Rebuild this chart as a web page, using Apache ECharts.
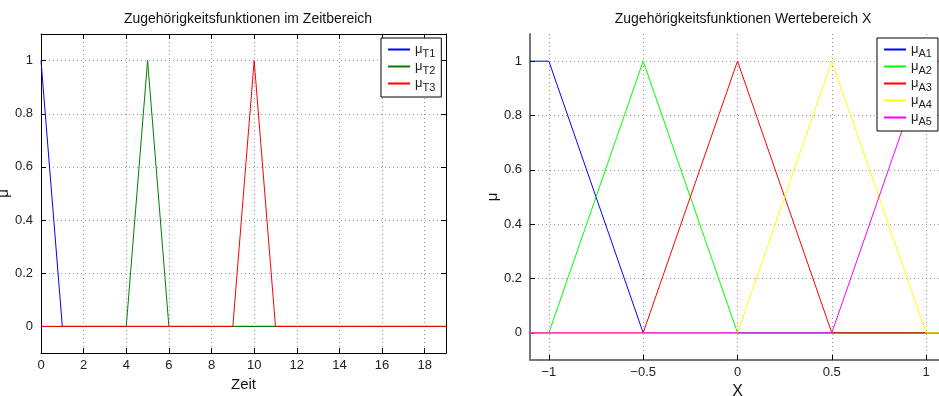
<!DOCTYPE html>
<html>
<head>
<meta charset="utf-8">
<script src="https://cdn.jsdelivr.net/npm/echarts@6/dist/echarts.min.js"></script>
<style>
  html, body { margin: 0; padding: 0; background: #fff; }
  #chart { width: 939px; height: 396px; }
</style>
</head>
<body>
<div id="chart"></div>
<script>
// Time domain: sample instants and membership values
var zeit = [0, 1, 2, 3, 4, 5, 6, 7, 8, 9, 10, 11, 12, 13, 14, 15, 16, 17, 18, 19];
var muT1 = [1, 0, 0, 0, 0, 0, 0, 0, 0, 0, 0, 0, 0, 0, 0, 0, 0, 0, 0, 0];
var muT2 = [0, 0, 0, 0, 0, 1, 0, 0, 0, 0, 0, 0, 0, 0, 0, 0, 0, 0, 0, 0];
var muT3 = [0, 0, 0, 0, 0, 0, 0, 0, 0, 0, 1, 0, 0, 0, 0, 0, 0, 0, 0, 0];
var namesT = ['T1', 'T2', 'T3'];
var colorsT = ['#0000ff', '#008000', '#ff0000'];

// Value range X: break points and membership values
var xWerte = [-1.1, -1, -0.5, 0, 0.5, 1, 1.1];
var muA1 = [1, 1, 0, 0, 0, 0, 0];
var muA2 = [0, 0, 1, 0, 0, 0, 0];
var muA3 = [0, 0, 0, 1, 0, 0, 0];
var muA4 = [0, 0, 0, 0, 1, 0, 0];
var muA5 = [0, 0, 0, 0, 0, 1, 1];
var namesA = ['A1', 'A2', 'A3', 'A4', 'A5'];
var colorsA = ['#0000ff', '#00ff00', '#ff0000', '#ffff00', '#ff00ff'];

// Tick positions
var zeitTicks = [0, 2, 4, 6, 8, 10, 12, 14, 16, 18];
var muTicks = [0, 0.2, 0.4, 0.6, 0.8, 1];
var xTicks = [-1, -0.5, 0, 0.5, 1];

function pairs(xs, ys) {
  return xs.map(function (x, i) { return [x, ys[i]]; });
}

var font = 'Liberation Sans, Arial, Helvetica, sans-serif';
var dots = { show: true, lineStyle: { color: '#9a9a9a', width: 1, type: [1, 3] } };

function valueAxis(opts) {
  var base = {
    type: 'value',
    axisLine: { show: true, onZero: false, lineStyle: { color: opts.lineColor, width: opts.lineWidth } },
    axisTick: { show: true, inside: true, length: 5, customValues: opts.ticks, lineStyle: { color: '#000' } },
    axisLabel: {
      show: opts.labels !== false,
      customValues: opts.ticks,
      color: '#222', fontSize: 13, fontFamily: font, margin: opts.margin || 6,
      formatter: function (v) { return String(v).replace('-', '\u2212'); }
    },
    splitLine: opts.split ? dots : { show: false }
  };
  for (var k in opts.extra) base[k] = opts.extra[k];
  return base;
}

var legendRich = {
  m: { fontSize: 13, fontFamily: font, color: '#222' },
  s: { fontSize: 11, fontFamily: font, color: '#222', padding: [8, 0, 0, 0] }
};

function legendFmt(name) { return '{m|\u03bc}{s|' + name + '}'; }

// Legend entries show only the line sample (the marker is made invisible)
function legendBox(names, left) {
  return {
    data: names,
    orient: 'vertical', left: left, top: 38,
    itemWidth: 22, itemHeight: 12, itemGap: 1, padding: [5, 6, 4, 6],
    itemStyle: { opacity: 0 },
    borderColor: '#000', borderWidth: 1, backgroundColor: '#fff',
    formatter: legendFmt, textStyle: { rich: legendRich }
  };
}

function line(name, xi, yi, data, color) {
  return {
    name: name, type: 'line', xAxisIndex: xi, yAxisIndex: yi, color: color,
    data: data, symbol: 'none', animation: false,
    lineStyle: { color: color, width: 1 }, itemStyle: { color: color }
  };
}

var chart = echarts.init(document.getElementById('chart'), null, { renderer: 'canvas' });

chart.setOption({
  backgroundColor: '#fff',
  animation: false,
  title: [
    { text: 'Zugeh\u00f6rigkeitsfunktionen im Zeitbereich', left: 243, top: 7, textAlign: 'center',
      textStyle: { fontSize: 14, fontWeight: 'normal', color: '#111', fontFamily: font } },
    { text: 'Zugeh\u00f6rigkeitsfunktionen Wertebereich X', left: 738, top: 7, textAlign: 'center',
      textStyle: { fontSize: 14, fontWeight: 'normal', color: '#111', fontFamily: font } }
  ],
  grid: [
    { left: 41, top: 34, width: 405, height: 319, outerBoundsMode: 'none', containLabel: false },
    { left: 530, top: 34, width: 415, height: 326, outerBoundsMode: 'none', containLabel: false }
  ],
  legend: [legendBox(namesT, 381), legendBox(namesA, 877)],
  xAxis: [
    valueAxis({ ticks: zeitTicks, lineColor: '#000', lineWidth: 1, split: true,
      extra: { gridIndex: 0, min: 0, max: 19, position: 'bottom', name: 'Zeit', nameLocation: 'middle', nameGap: 22,
        nameTextStyle: { fontSize: 15, color: '#111', fontFamily: font } } }),
    valueAxis({ ticks: zeitTicks, lineColor: '#000', lineWidth: 1, labels: false,
      extra: { gridIndex: 0, min: 0, max: 19, position: 'top' } }),
    valueAxis({ ticks: xTicks, lineColor: '#777', lineWidth: 2, split: true,
      extra: { gridIndex: 1, min: -1.1, max: 1.1, position: 'bottom', name: 'X', nameLocation: 'middle', nameGap: 17,
        nameTextStyle: { fontSize: 16, color: '#111', fontFamily: font } } })
  ],
  yAxis: [
    valueAxis({ ticks: muTicks, lineColor: '#000', lineWidth: 1, split: true, margin: 8,
      extra: { gridIndex: 0, min: -0.1, max: 1.1, position: 'left', name: '\u03bc', nameLocation: 'middle', nameGap: 24, nameRotate: 90,
        nameTextStyle: { fontSize: 15, color: '#111', fontFamily: font } } }),
    valueAxis({ ticks: muTicks, lineColor: '#000', lineWidth: 1, labels: false,
      extra: { gridIndex: 0, min: -0.1, max: 1.1, position: 'right' } }),
    valueAxis({ ticks: muTicks, lineColor: '#777', lineWidth: 2, split: true, margin: 8,
      extra: { gridIndex: 1, min: -0.1, max: 1.1, position: 'left', name: '\u03bc', nameLocation: 'middle', nameGap: 24, nameRotate: 90,
        nameTextStyle: { fontSize: 15, color: '#111', fontFamily: font } } })
  ],
  series: [
    line('T1', 0, 0, pairs(zeit, muT1), colorsT[0]),
    line('T2', 0, 0, pairs(zeit, muT2), colorsT[1]),
    line('T3', 0, 0, pairs(zeit, muT3), colorsT[2]),
    line('A1', 2, 2, pairs(xWerte, muA1), colorsA[0]),
    line('A2', 2, 2, pairs(xWerte, muA2), colorsA[1]),
    line('A3', 2, 2, pairs(xWerte, muA3), colorsA[2]),
    line('A4', 2, 2, pairs(xWerte, muA4), colorsA[3]),
    line('A5', 2, 2, pairs(xWerte, muA5), colorsA[4])
  ]
});
</script>
</body>
</html>
